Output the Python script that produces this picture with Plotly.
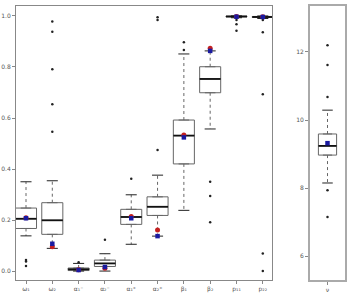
import plotly.graph_objects as go

params = ["ω₁", "ω₂", "α₁⁻", "α₂⁻", "α₁⁺", "α₂⁺", "β₁", "β₂", "p₁₁", "p₂₂"]
q1 = [0.167, 0.144, 0.002, 0.018, 0.183, 0.218, 0.420, 0.699, 0.996, 0.994]
med = [0.205, 0.199, 0.007, 0.030, 0.212, 0.252, 0.531, 0.753, 0.998, 0.996]
q3 = [0.247, 0.268, 0.012, 0.043, 0.242, 0.291, 0.592, 0.801, 0.999, 0.998]
lo_wh = [0.138, 0.089, 0.000, 0.000, 0.105, 0.137, 0.238, 0.557, 0.993, 0.990]
hi_wh = [0.350, 0.354, 0.030, 0.068, 0.299, 0.376, 0.851, 0.863, 1.000, 1.000]
outliers = [
    [0.043, 0.038, 0.020],
    [0.978, 0.938, 0.791, 0.654, 0.546],
    [0.035],
    [0.123],
    [0.362],
    [0.475, 0.995, 0.984],
    [0.897, 0.867],
    [0.350, 0.294, 0.191],
    [0.984, 0.967, 0.942],
    [0.984, 0.936, 0.693, 0.069, 0.000],
]
true_vals = [0.209, 0.095, 0.005, 0.011, 0.214, 0.161, 0.533, 0.873, 0.998, 0.997]
mean_vals = [0.207, 0.107, 0.004, 0.016, 0.207, 0.137, 0.524, 0.863, 0.997, 0.996]

nu_label = ["ν"]
nu_q1 = [8.97]
nu_med = [9.24]
nu_q3 = [9.59]
nu_lo = [8.15]
nu_hi = [10.29]
nu_out = [[12.2, 11.62, 10.68, 7.94, 7.15]]
nu_mean = [9.32]

BOXC = "#666666"
BLUE = "#1a1aa0"
RED = "#c42020"

fig = go.Figure()


def add_panel(labels, Q1, MED, Q3, LO, HI, OUT, TRUE, MEAN, xa, ya, bw, cw):
    pos = list(range(1, len(labels) + 1))
    # whiskers (dotted)
    wx, wy = [], []
    for p, a, b, c, d in zip(pos, Q1, Q3, LO, HI):
        wx += [p, p, None, p, p, None]
        wy += [b, d, None, a, c, None]
    fig.add_trace(go.Scatter(x=wx, y=wy, mode="lines", xaxis=xa, yaxis=ya,
                             line=dict(color=BOXC, width=1, dash="dot"),
                             hoverinfo="skip", showlegend=False))
    # caps
    cx, cy = [], []
    for p, c, d in zip(pos, LO, HI):
        cx += [p - cw / 2, p + cw / 2, None, p - cw / 2, p + cw / 2, None]
        cy += [d, d, None, c, c, None]
    fig.add_trace(go.Scatter(x=cx, y=cy, mode="lines", xaxis=xa, yaxis=ya,
                             line=dict(color="#222222", width=1),
                             hoverinfo="skip", showlegend=False))
    # boxes
    fig.add_trace(go.Box(x=pos, q1=Q1, median=MED, q3=Q3, lowerfence=Q1,
                         upperfence=Q3, width=bw, fillcolor="white",
                         line=dict(color=BOXC, width=1), boxpoints=False,
                         xaxis=xa, yaxis=ya, showlegend=False,
                         hoverinfo="skip"))
    # medians
    mx, my = [], []
    for p, m in zip(pos, MED):
        mx += [p - bw / 2, p + bw / 2, None]
        my += [m, m, None]
    fig.add_trace(go.Scatter(x=mx, y=my, mode="lines", xaxis=xa, yaxis=ya,
                             line=dict(color="#111111", width=1.8),
                             hoverinfo="skip", showlegend=False))
    # outliers
    ox, oy = [], []
    for p, lst in zip(pos, OUT):
        for v in lst:
            ox.append(p)
            oy.append(v)
    fig.add_trace(go.Scatter(x=ox, y=oy, mode="markers", xaxis=xa, yaxis=ya,
                             marker=dict(color="#222222", size=2.5),
                             hoverinfo="skip", showlegend=False))
    if TRUE is not None:
        fig.add_trace(go.Scatter(x=pos, y=TRUE, mode="markers", xaxis=xa, yaxis=ya,
                                 marker=dict(color=RED, size=5, symbol="circle"),
                                 hoverinfo="skip", showlegend=False))
    fig.add_trace(go.Scatter(x=pos, y=MEAN, mode="markers", xaxis=xa, yaxis=ya,
                             marker=dict(color=BLUE, size=4.5, symbol="square"),
                             hoverinfo="skip", showlegend=False))


add_panel(params, q1, med, q3, lo_wh, hi_wh, outliers, true_vals, mean_vals,
          "x", "y", 0.8, 0.42)
add_panel(nu_label, nu_q1, nu_med, nu_q3, nu_lo, nu_hi, nu_out, None, nu_mean,
          "x2", "y2", 0.52, 0.3)

tickfont = dict(size=6, color="#555555", family="DejaVu Sans")
W, H = 348, 296
fig.update_layout(
    width=W, height=H, margin=dict(l=0, r=0, t=0, b=0),
    paper_bgcolor="white", plot_bgcolor="white", showlegend=False,
    xaxis=dict(domain=[16 / W, 272 / W], range=[0.62, 10.35],
               tickvals=list(range(1, 11)), ticktext=params,
               ticks="outside", ticklen=3, tickcolor="#888", tickfont=tickfont,
               showgrid=False, zeroline=False, showline=True, mirror=True,
               linecolor="#888888", linewidth=1, anchor="y"),
    yaxis=dict(domain=[(H - 280) / H, (H - 6) / H], range=[-0.035, 1.039],
               tickvals=[0, 0.2, 0.4, 0.6, 0.8, 1.0],
               ticktext=["0.0", "0.2", "0.4", "0.6", "0.8", "1.0"],
               ticks="outside", ticklen=3, tickcolor="#888", tickfont=tickfont,
               showgrid=False, zeroline=False, showline=True, mirror=True,
               linecolor="#888888", linewidth=1, anchor="x"),
    xaxis2=dict(domain=[310 / W, 345 / W], range=[0.5, 1.5],
                tickvals=[1], ticktext=nu_label,
                ticks="outside", ticklen=3, tickcolor="#888", tickfont=tickfont,
                showgrid=False, zeroline=False, showline=True, mirror=True,
                linecolor="#aaaaaa", linewidth=2, anchor="y2"),
    yaxis2=dict(domain=[(H - 280) / H, (H - 6) / H], range=[5.3, 13.35],
                tickvals=[6, 8, 10, 12], ticktext=["6", "8", "10", "12"],
                ticks="outside", ticklen=3, tickcolor="#888", tickfont=tickfont,
                showgrid=False, zeroline=False, showline=True, mirror=True,
                linecolor="#aaaaaa", linewidth=2, anchor="x2"),
)

fig.write_html("out.html")
